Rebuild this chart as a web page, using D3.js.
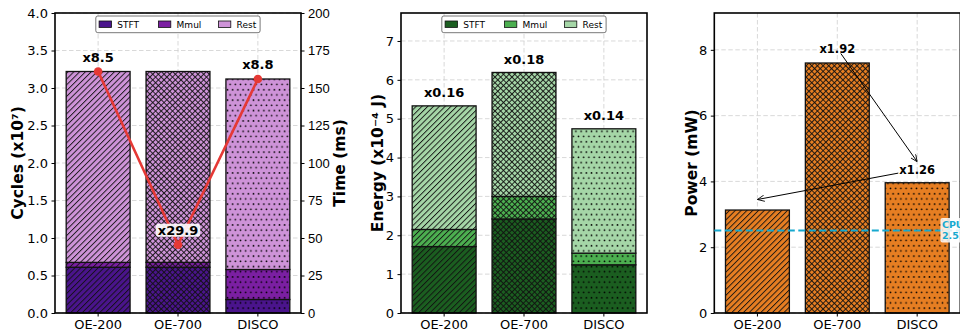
<!DOCTYPE html>
<html><head><meta charset="utf-8">
<script src="https://cdn.jsdelivr.net/npm/d3@7/dist/d3.min.js"></script>
<style>
html,body{margin:0;padding:0;background:#fff;}
svg{display:block;font-family:"DejaVu Sans",sans-serif;}
</style></head>
<body><svg id="chart" width="960" height="332"></svg>
<script>
// ---- data ----
const categories = ["OE-200", "OE-700", "DISCO"];
const components = ["STFT", "Mmul", "Rest"];
const cyclesSTFT = [0.61, 0.61, 0.18];
const cyclesMmul = [0.065, 0.065, 0.40];
const cyclesRest = [2.545, 2.545, 2.54];
const timeMs = [161, 45.5, 156];
const timeLabels = ["x8.5", "x29.9", "x8.8"];
const energySTFT = [1.71, 2.42, 1.24];
const energyMmul = [0.44, 0.58, 0.30];
const energyRest = [3.18, 3.19, 3.20];
const energyLabels = ["x0.16", "x0.18", "x0.14"];
const powerMw = [3.13, 7.6, 3.96];
const cpuPower = 2.51;
const cyclesTicks = [0, 0.5, 1, 1.5, 2, 2.5, 3, 3.5, 4];
const timeTicks = [0, 25, 50, 75, 100, 125, 150, 175, 200];
const energyTicks = [0, 1, 2, 3, 4, 5, 6, 7];
const powerTicks = [0, 2, 4, 6, 8];
const powerAnnotations = [
  {text: "x1.92", tx: 1.0, ty: 8.04, ax: 2.0, ay: 4.6},
  {text: "x1.26", tx: 2.0, ty: 4.36, ax: 0.0, ay: 3.45}
];

const purple = ["#4a148c", "#7b1fa2", "#ce93d8"];
const green = ["#1b5e20", "#4caf50", "#a5d6a7"];
const orange = "#e67e22";
const hatchIds = ["hDiag", "hCross", "hDots"];

const svg = d3.select("#chart");
const defs = svg.append("defs");
// hatch patterns
const s = 4.1, sc2 = 4.0;
const hw0 = 0.9, hc = "#111";
const pd = defs.append("pattern").attr("id", "hDiag").attr("patternUnits", "userSpaceOnUse")
  .attr("width", s).attr("height", s).attr("patternTransform", "rotate(45)");
pd.append("line").attr("x1", 0.5).attr("y1", 0).attr("x2", 0.5).attr("y2", s)
  .attr("stroke", hc).attr("stroke-width", hw0);
const pc = defs.append("pattern").attr("id", "hCross").attr("patternUnits", "userSpaceOnUse")
  .attr("width", sc2).attr("height", sc2).attr("patternTransform", "rotate(45)");
pc.append("line").attr("x1", 0.5).attr("y1", 0).attr("x2", 0.5).attr("y2", sc2)
  .attr("stroke", hc).attr("stroke-width", hw0);
pc.append("line").attr("x1", 0).attr("y1", 0.5).attr("x2", sc2).attr("y2", 0.5)
  .attr("stroke", hc).attr("stroke-width", hw0);
const dw = 5.2;
const pdot = defs.append("pattern").attr("id", "hDots").attr("patternUnits", "userSpaceOnUse")
  .attr("width", dw).attr("height", dw * 2);
pdot.append("circle").attr("cx", 1.3).attr("cy", 1.3).attr("r", 0.85).attr("fill", "#000");
pdot.append("circle").attr("cx", 1.3 + dw / 2).attr("cy", 1.3 + dw).attr("r", 0.85).attr("fill", "#000");
const arrowM = defs.append("marker").attr("id", "arr").attr("viewBox", "0 0 10 10")
  .attr("refX", 10).attr("refY", 5).attr("markerWidth", 7).attr("markerHeight", 7)
  .attr("markerUnits", "userSpaceOnUse").attr("orient", "auto");
arrowM.append("path").attr("d", "M0,0.5 L10,5 L0,9.5").attr("fill", "none")
  .attr("stroke", "#000").attr("stroke-width", 1.2);

const T0 = 13, H0 = 300, W0 = 246;

function makePanel(left, ymax) {
  const g = svg.append("g");
  const x = d3.scaleBand().domain(categories).range([left, left + W0])
    .paddingInner(0.2).paddingOuter(0.14);
  const y = d3.scaleLinear().domain([0, ymax]).range([T0 + H0, T0]);
  return {g, x, y, left};
}

function gridLines(p, ticks) {
  const gg = p.g.append("g");
  gg.selectAll("line.h").data(ticks).join("line")
    .attr("x1", p.left).attr("x2", p.left + W0)
    .attr("y1", d => p.y(d)).attr("y2", d => p.y(d))
    .attr("stroke", "#cfcfcf").attr("stroke-width", 0.8).attr("stroke-dasharray", "4.5,2.5");
  gg.selectAll("line.v").data(categories).join("line")
    .attr("x1", d => p.x(d) + p.x.bandwidth() / 2).attr("x2", d => p.x(d) + p.x.bandwidth() / 2)
    .attr("y1", T0).attr("y2", T0 + H0)
    .attr("stroke", "#cfcfcf").attr("stroke-width", 0.8).attr("stroke-dasharray", "4.5,2.5");
}

function drawAxes(p, ticks, fmt) {
  const ax = p.g.append("g").attr("transform", `translate(${p.left},0)`)
    .call(d3.axisLeft(p.y).tickValues(ticks).tickFormat(fmt).tickSize(3.5).tickPadding(3.5));
  const bx = p.g.append("g").attr("transform", `translate(0,${T0 + H0})`)
    .call(d3.axisBottom(p.x).tickSize(3.5).tickPadding(3));
  [ax, bx].forEach(a => {
    a.select(".domain").remove();
    a.selectAll("text").attr("font-size", 13).attr("fill", "#000").attr("font-family", "DejaVu Sans");
    a.selectAll("line").attr("stroke", "#000").attr("stroke-width", 1);
  });
  p.g.append("rect").attr("x", p.left).attr("y", T0).attr("width", W0).attr("height", H0)
    .attr("fill", "none").attr("stroke", "#000").attr("stroke-width", 1.6);
}

function stacked(p, series, colors) {
  categories.forEach((c, i) => {
    let base = 0;
    series.forEach((arr, k) => {
      const v = arr[i];
      const y0 = p.y(base), y1 = p.y(base + v);
      const rx = p.x(c), bw = p.x.bandwidth();
      p.g.append("rect").attr("x", rx).attr("y", y1).attr("width", bw).attr("height", y0 - y1)
        .attr("fill", colors[k]);
      p.g.append("rect").attr("x", rx).attr("y", y1).attr("width", bw).attr("height", y0 - y1)
        .attr("fill", `url(#${hatchIds[i]})`).attr("stroke", "#111").attr("stroke-width", 1.3);
      base += v;
    });
  });
}

function legend(p, colors) {
  const cx = p.left + W0 / 2;
  const lg = p.g.append("g").attr("transform", `translate(${cx - 82.2},16)`);
  lg.append("rect").attr("x", 0).attr("y", 0).attr("width", 164.3).attr("height", 16.7)
    .attr("rx", 2).attr("fill", "#fff").attr("fill-opacity", 0.9).attr("stroke", "#555").attr("stroke-width", 0.8);
  const offs = [3.3, 62.6, 122.6];
  components.forEach((c, k) => {
    lg.append("rect").attr("x", offs[k]).attr("y", 5).attr("width", 12.4).attr("height", 6.4)
      .attr("fill", colors[k]).attr("stroke", "#111").attr("stroke-width", 0.8);
    lg.append("text").attr("x", offs[k] + 18.2).attr("y", 11.6).attr("font-size", 9)
      .attr("fill", "#000").text(c);
  });
}

function ylabel(x, text) {
  svg.append("text").attr("transform", `translate(${x},${T0 + H0 / 2}) rotate(-90)`)
    .attr("text-anchor", "middle").attr("dominant-baseline", "central")
    .attr("font-size", 15.5).attr("font-weight", "bold").attr("fill", "#000").text(text);
}

// ---- panel 1: cycles ----
const p1 = makePanel(55, 4.0);
gridLines(p1, cyclesTicks);
stacked(p1, [cyclesSTFT, cyclesMmul, cyclesRest], purple);
drawAxes(p1, cyclesTicks, d3.format(".1f"));
legend(p1, purple);
const yTime = d3.scaleLinear().domain([0, 200]).range([T0 + H0, T0]);
const rax = p1.g.append("g").attr("transform", `translate(${p1.left + W0},0)`)
  .call(d3.axisRight(yTime).tickValues(timeTicks).tickSize(3.5).tickPadding(3.5));
rax.select(".domain").remove();
rax.selectAll("text").attr("font-size", 13).attr("fill", "#000");
rax.selectAll("line").attr("stroke", "#000");
const cxp = c => p1.x(c) + p1.x.bandwidth() / 2;
p1.g.append("path").datum(categories)
  .attr("d", d3.line().x(c => cxp(c)).y((c, i) => yTime(timeMs[i])))
  .attr("fill", "none").attr("stroke", "#e53935").attr("stroke-width", 2.6);
p1.g.selectAll("circle.pt").data(categories).join("circle")
  .attr("cx", c => cxp(c)).attr("cy", (c, i) => yTime(timeMs[i])).attr("r", 4.3).attr("fill", "#e53935");
categories.forEach((c, i) => {
  const tx = cxp(c);
  const ty = yTime(timeMs[i]) - 14.5;
  const t = p1.g.append("text").attr("x", tx).attr("y", ty).attr("text-anchor", "middle")
    .attr("dominant-baseline", "central").attr("font-size", 13).attr("font-weight", "bold").text(timeLabels[i]);
  if (i === 1) {
    const bb = t.node().getBBox();
    p1.g.insert("rect", () => t.node()).attr("x", bb.x - 2).attr("y", bb.y + 1).attr("width", bb.width + 4)
      .attr("height", bb.height - 2).attr("rx", 3).attr("fill", "#fff").attr("fill-opacity", 0.9);
  }
});
ylabel(18.3, "Cycles (x10⁷)");
ylabel(340, "Time (ms)");

// ---- panel 2: energy ----
const p2 = makePanel(401, 7.72);
gridLines(p2, energyTicks);
stacked(p2, [energySTFT, energyMmul, energyRest], green);
drawAxes(p2, energyTicks, d3.format("d"));
legend(p2, green);
categories.forEach((c, i) => {
  const tot = energySTFT[i] + energyMmul[i] + energyRest[i];
  p2.g.append("text").attr("x", p2.x(c) + p2.x.bandwidth() / 2).attr("y", p2.y(tot) - 13)
    .attr("text-anchor", "middle").attr("dominant-baseline", "central")
    .attr("font-size", 13).attr("font-weight", "bold").text(energyLabels[i]);
});
ylabel(378, "Energy (x10⁻⁴ J)");

// ---- panel 3: power ----
const p3 = makePanel(714.3, 9.12);
gridLines(p3, powerTicks);
categories.forEach((c, i) => {
  const rx = p3.x(c), bw = p3.x.bandwidth(), y1 = p3.y(powerMw[i]), y0 = p3.y(0);
  p3.g.append("rect").attr("x", rx).attr("y", y1).attr("width", bw).attr("height", y0 - y1).attr("fill", orange);
  p3.g.append("rect").attr("x", rx).attr("y", y1).attr("width", bw).attr("height", y0 - y1)
    .attr("fill", `url(#${hatchIds[i]})`).attr("stroke", "#111").attr("stroke-width", 1.3);
});
drawAxes(p3, powerTicks, d3.format("d"));
// CPU line
p3.g.append("line").attr("x1", p3.left).attr("x2", p3.left + W0)
  .attr("y1", p3.y(cpuPower)).attr("y2", p3.y(cpuPower))
  .attr("stroke", "#17a9cf").attr("stroke-width", 2).attr("stroke-dasharray", "7,3.5");
const xLin = d3.scaleLinear().domain([0, 2]).range([p3.x("OE-200") + p3.x.bandwidth() / 2, p3.x("DISCO") + p3.x.bandwidth() / 2]);
const cpuG = p3.g.append("g");
const cpuBg = cpuG.append("rect");
const cpuT = cpuG.append("text").attr("x", xLin(2.31)).attr("y", p3.y(cpuPower)).attr("font-size", 9.5)
  .attr("font-weight", "bold").attr("fill", "#17a9cf");
cpuT.append("tspan").attr("x", xLin(2.31)).attr("dy", -2.5).text("CPU");
cpuT.append("tspan").attr("x", xLin(2.31)).attr("dy", 11.5).text(cpuPower.toFixed(2));
const cb = cpuT.node().getBBox();
cpuBg.attr("x", cb.x - 1.5).attr("y", cb.y - 1).attr("width", cb.width + 3).attr("height", cb.height + 2)
  .attr("rx", 2).attr("fill", "#fff").attr("fill-opacity", 0.85);
// annotations
powerAnnotations.forEach(a => {
  const tx = xLin(a.tx), ty = p3.y(a.ty);
  const t = p3.g.append("text").attr("x", tx).attr("y", ty).attr("text-anchor", "middle")
    .attr("dominant-baseline", "central").attr("font-size", 11.5).attr("font-weight", "bold").text(a.text);
  const bb = t.node().getBBox();
  const ex = xLin(a.ax), ey = p3.y(a.ay);
  const dx = ex - tx, dy = ey - ty;
  const hw = bb.width / 2 + 1, hh = bb.height / 2 - 2;
  const sc = Math.min(Math.abs(hw / dx) || 1e9, Math.abs(hh / dy) || 1e9);
  p3.g.append("line").attr("x1", tx + dx * sc).attr("y1", ty + dy * sc).attr("x2", ex).attr("y2", ey)
    .attr("stroke", "#000").attr("stroke-width", 1).attr("marker-end", "url(#arr)");
});
ylabel(691.7, "Power (mW)");
</script></body></html>
